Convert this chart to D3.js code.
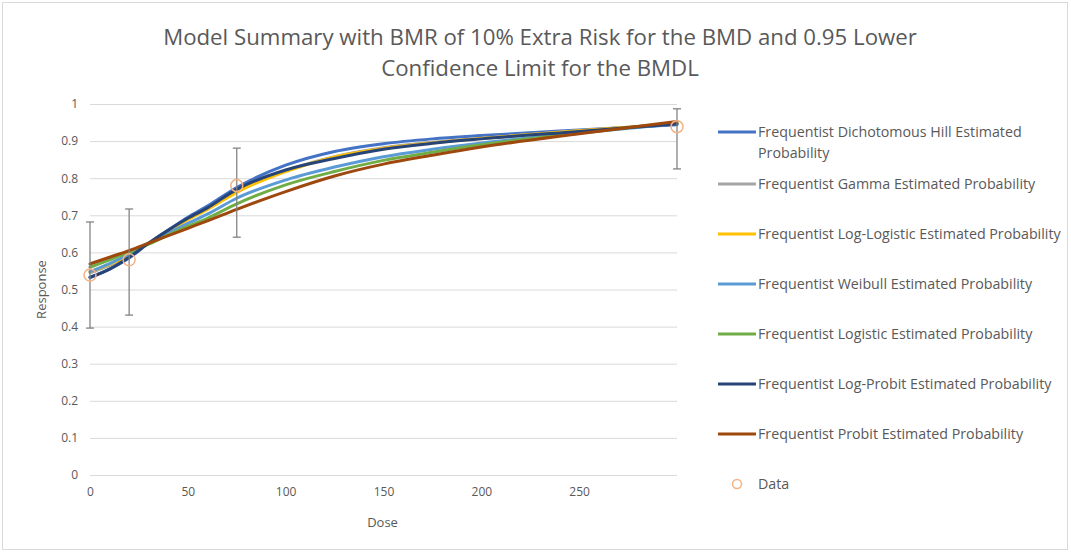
<!DOCTYPE html>
<html>
<head>
<meta charset="utf-8">
<script src="https://cdn.jsdelivr.net/npm/d3@7/dist/d3.min.js"></script>
<style>
  body { margin: 0; background: #fff; }
  text { font-family: "Open Sans", "Liberation Sans", sans-serif; fill: #595959; }
</style>
</head>
<body>
<svg id="chart" width="1071" height="553"></svg>
<script>
// ---- data ----
var titleLines = ["Model Summary with BMR of 10% Extra Risk for the BMD and 0.95 Lower",
                  "Confidence Limit for the BMDL"];
var xTicks = [0, 50, 100, 150, 200, 250];
var yTicks = [0, 0.1, 0.2, 0.3, 0.4, 0.5, 0.6, 0.7, 0.8, 0.9, 1];

var curveDoses = [0, 10, 20, 30, 40, 50, 60, 75, 100, 125, 150, 175, 200, 250, 300];
var hill       = [0.532, 0.555, 0.585, 0.625, 0.660, 0.695, 0.725, 0.775, 0.835, 0.872, 0.893, 0.906, 0.915, 0.930, 0.944];
var gamma      = [0.545, 0.565, 0.590, 0.625, 0.658, 0.690, 0.718, 0.765, 0.820, 0.858, 0.882, 0.897, 0.908, 0.928, 0.947];
var logLogistic= [0.548, 0.568, 0.592, 0.625, 0.657, 0.688, 0.716, 0.762, 0.818, 0.857, 0.880, 0.895, 0.907, 0.928, 0.947];
var weibull    = [0.548, 0.570, 0.595, 0.625, 0.652, 0.678, 0.703, 0.746, 0.795, 0.830, 0.858, 0.878, 0.895, 0.922, 0.947];
var logistic   = [0.560, 0.580, 0.600, 0.622, 0.647, 0.670, 0.692, 0.731, 0.782, 0.818, 0.848, 0.870, 0.890, 0.922, 0.950];
var logProbit  = [0.533, 0.555, 0.587, 0.625, 0.660, 0.692, 0.720, 0.770, 0.822, 0.853, 0.878, 0.894, 0.906, 0.926, 0.946];
var probit     = [0.569, 0.587, 0.605, 0.625, 0.645, 0.665, 0.685, 0.716, 0.764, 0.806, 0.838, 0.862, 0.884, 0.920, 0.953];

var dataDoses = [0, 20, 75, 300];
var dataResp  = [0.539, 0.580, 0.780, 0.939];
var dataLower = [0.396, 0.431, 0.641, 0.825];
var dataUpper = [0.682, 0.717, 0.881, 0.987];

var seriesNames = ["Frequentist Dichotomous Hill Estimated Probability",
                   "Frequentist Gamma Estimated Probability",
                   "Frequentist Log-Logistic Estimated Probability",
                   "Frequentist Weibull Estimated Probability",
                   "Frequentist Logistic Estimated Probability",
                   "Frequentist Log-Probit Estimated Probability",
                   "Frequentist Probit Estimated Probability"];
var seriesValues = [hill, gamma, logLogistic, weibull, logistic, logProbit, probit];
var seriesColors = ["#4472C4", "#A5A5A5", "#FFC000", "#5B9BD5", "#70AD47", "#264478", "#9E480E"];

// ---- layout ----
var svg = d3.select("#chart");
var plot = {left: 90, right: 677, top: 104, bottom: 475};

svg.append("rect")
  .attr("x", 2.5).attr("y", 2.5)
  .attr("width", 1065).attr("height", 547)
  .attr("fill", "#fff").attr("stroke", "#d9d9d9");

// font size that makes a string take a target width
function fitSize(str, size, target) {
  var t = svg.append("text").attr("font-size", size).text(str);
  var w = t.node().getComputedTextLength();
  t.remove();
  return size * target / w;
}

// title
var titleSize = fitSize(titleLines[0], 20, 754);
titleLines.forEach(function(t, i) {
  svg.append("text")
    .attr("x", 540).attr("y", 45 + i * 31)
    .attr("text-anchor", "middle")
    .attr("font-size", titleSize)
    .text(t);
});

var x = d3.scaleLinear().domain([0, 300]).range([plot.left, plot.right]);
var y = d3.scaleLinear().domain([0, 1]).range([plot.bottom, plot.top]);

// gridlines
svg.append("g")
  .attr("transform", "translate(" + plot.left + ",0)")
  .call(d3.axisLeft(y).tickValues(yTicks).tickSize(-(plot.right - plot.left)).tickFormat(""))
  .call(function(g) {
    g.select(".domain").remove();
    g.selectAll("line").attr("stroke", "#d9d9d9");
  });

// y axis labels
svg.append("g")
  .attr("transform", "translate(" + plot.left + ",0)")
  .call(d3.axisLeft(y).tickValues(yTicks).tickSize(0).tickPadding(12).tickFormat(d3.format("~g")))
  .call(function(g) {
    g.select(".domain").remove();
    g.selectAll("text").attr("font-size", 12).attr("fill", "#595959")
      .style("font-family", '"Open Sans", sans-serif');
  });

// x axis labels
svg.append("g")
  .attr("transform", "translate(0," + plot.bottom + ")")
  .call(d3.axisBottom(x).tickValues(xTicks).tickSize(0).tickPadding(12))
  .call(function(g) {
    g.select(".domain").remove();
    g.selectAll("text").attr("font-size", 12).attr("fill", "#595959")
      .style("font-family", '"Open Sans", sans-serif');
  });

// axis titles
svg.append("text")
  .attr("x", (plot.left + plot.right) / 2 - 1).attr("y", 527)
  .attr("text-anchor", "middle").attr("font-size", 13)
  .text("Dose");
svg.append("text")
  .attr("transform", "translate(46," + (plot.top + plot.bottom) / 2 + ") rotate(-90)")
  .attr("text-anchor", "middle").attr("font-size", 13)
  .text("Response");

// model curves
var line = d3.line()
  .x(function(d) { return x(d[0]); })
  .y(function(d) { return y(d[1]); })
  .curve(d3.curveMonotoneX);

seriesValues.forEach(function(vals, i) {
  var pts = curveDoses.map(function(dose, j) { return [dose, vals[j]]; });
  svg.append("path")
    .datum(pts)
    .attr("d", line)
    .attr("fill", "none")
    .attr("stroke", seriesColors[i])
    .attr("stroke-width", 3)
    .attr("stroke-linecap", "round");
});

// data with error bars
var dataPts = dataDoses.map(function(d, i) {
  return {dose: d, resp: dataResp[i], lo: dataLower[i], hi: dataUpper[i]};
});
var eb = svg.append("g").attr("stroke", "#7f7f7f").attr("stroke-width", 1.25);
eb.selectAll(".bar").data(dataPts).enter().append("line")
  .attr("x1", function(d) { return x(d.dose); })
  .attr("x2", function(d) { return x(d.dose); })
  .attr("y1", function(d) { return y(d.lo); })
  .attr("y2", function(d) { return y(d.hi); });
["lo", "hi"].forEach(function(k) {
  eb.selectAll(".cap-" + k).data(dataPts).enter().append("line")
    .attr("x1", function(d) { return x(d.dose) - 4; })
    .attr("x2", function(d) { return x(d.dose) + 4; })
    .attr("y1", function(d) { return y(d[k]); })
    .attr("y2", function(d) { return y(d[k]); });
});
svg.selectAll(".pt").data(dataPts).enter().append("circle")
  .attr("cx", function(d) { return x(d.dose); })
  .attr("cy", function(d) { return y(d.resp); })
  .attr("r", 6)
  .attr("fill", "none")
  .attr("stroke", "#F4B183")
  .attr("stroke-width", 1.5);

// legend
var legendSize = fitSize(seriesNames[2], 12, 303);
var legend = svg.append("g").attr("transform", "translate(718,0)");
var maxTextWidth = 312;
var itemY = 132;
seriesNames.forEach(function(name, i) {
  var g = legend.append("g").attr("transform", "translate(0," + itemY + ")");
  g.append("line")
    .attr("x1", 0).attr("x2", 38).attr("y1", 0).attr("y2", 0)
    .attr("stroke", seriesColors[i]).attr("stroke-width", 3);
  var t = g.append("text").attr("x", 40).attr("y", 4.5).attr("font-size", legendSize);
  // simple word wrap
  var words = name.split(" "), lineTxt = [], lineNo = 0;
  var tspan = t.append("tspan").attr("x", 40).attr("dy", 0);
  words.forEach(function(w) {
    lineTxt.push(w);
    tspan.text(lineTxt.join(" "));
    if (tspan.node().getComputedTextLength() > maxTextWidth && lineTxt.length > 1) {
      lineTxt.pop();
      tspan.text(lineTxt.join(" "));
      lineTxt = [w];
      lineNo++;
      tspan = t.append("tspan").attr("x", 40).attr("dy", 21).text(w);
    }
  });
  itemY += 50 + (lineNo > 0 ? 2 : 0);
});
var dg = legend.append("g").attr("transform", "translate(0," + itemY + ")");
dg.append("circle").attr("cx", 19).attr("cy", 0).attr("r", 4.5)
  .attr("fill", "none").attr("stroke", "#F4B183").attr("stroke-width", 1.5);
dg.append("text").attr("x", 40).attr("y", 4.5).attr("font-size", legendSize).text("Data");
</script>
</body>
</html>
